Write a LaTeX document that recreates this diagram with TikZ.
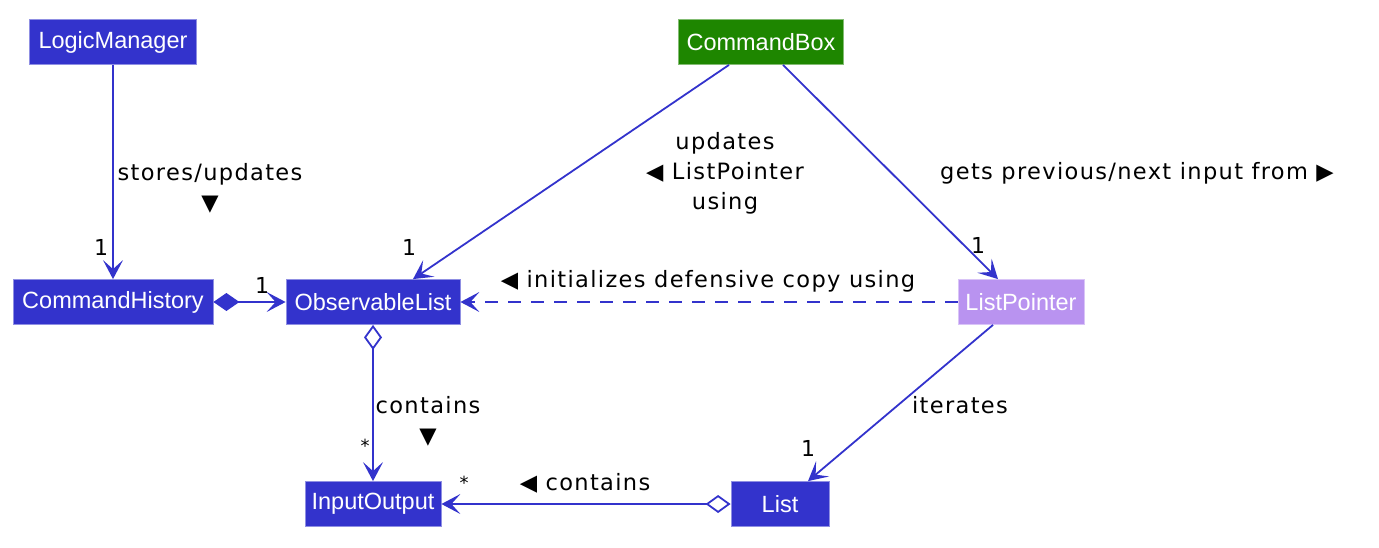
\documentclass[tikz,border=0pt]{standalone}
\usepackage{fontspec}
\setmainfont{Liberation Sans}
\newfontfamily\lblfont{DejaVu Sans}[LetterSpace=6]
\usetikzlibrary{arrows.meta}

\definecolor{umlblue}{RGB}{51,51,204}
\definecolor{umlgreen}{RGB}{30,134,0}
\definecolor{umllilac}{RGB}{185,147,240}

\begin{document}
\begin{tikzpicture}[
  x=1pt, y=-1pt,
  cls/.style={fill=#1, draw=white!45!#1, line width=0.8pt, text=white,
    minimum height=45pt, inner xsep=4pt,
    font=\fontsize{23.5}{26}\selectfont},
  cls/.default=umlblue,
  rel/.style={draw=umlblue, line width=1.8pt},
  tip/.style={-{Stealth[length=19pt, width=20pt, inset=9pt]}},
  lbl/.style={font=\lblfont\fontsize{22.5}{30}\selectfont, align=center},
  mult/.style={font=\lblfont\fontsize{22}{24}\selectfont},
  star/.style={font=\lblfont\fontsize{18}{20}\selectfont},
]
\useasboundingbox (0,0) rectangle (1379,547);

% === classes ===
\node[cls, minimum width=167pt] (lm) at (113, 42) {LogicManager};
\node[cls=umlgreen, minimum width=165pt] (cb) at (761, 42) {CommandBox};
\node[cls, minimum width=200pt] (ch) at (113, 302) {CommandHistory};
\node[cls, minimum width=174pt] (ol) at (373, 302) {ObservableList};
\node[cls=umllilac, minimum width=126pt] (lp) at (1021, 302) {ListPointer};
\node[cls, minimum width=136pt] (io) at (373, 504) {InputOutput};
\node[cls, minimum width=98pt] (lst) at (780, 504) {List};

% === relations ===
\draw[rel, {Diamond[length=26pt, width=18pt]}-{Stealth[length=19pt, width=20pt, inset=9pt]}]
  (ch) -- (ol);
\draw[rel, tip] (lm) -- (ch);
\draw[rel, tip] ([xshift=-32pt]cb.south) -- ([xshift=40pt]ol.north);
\draw[rel, tip] ([xshift=22pt]cb.south) -- ([xshift=-23pt]lp.north);
\draw[rel, tip, dash pattern=on 13pt off 10pt] (lp) -- (ol);
\draw[rel, {Diamond[length=25pt, width=18pt, fill=white]}-{Stealth[length=19pt, width=20pt, inset=9pt]}]
  (ol) -- (io);
\draw[rel, tip] ([xshift=-28pt]lp.south) -- ([xshift=28pt]lst.north);
\draw[rel, {Diamond[length=25pt, width=18pt, fill=white]}-{Stealth[length=19pt, width=20pt, inset=9pt]}]
  (lst) -- (io);

% === labels ===
\node[lbl] (l1) at (210, 188) {stores/updates\\▼};
\node[mult] (m1) at (101, 247) {1};
\node[mult] (m2) at (262, 285) {1};
\node[lbl] (l2) at (725, 173) {updates\\◀ ListPointer\\using};
\node[mult] (m3) at (409, 247) {1};
\node[lbl] (l3) at (1137, 173) {gets previous/next input from ▶};
\node[mult] (m4) at (978, 245) {1};
\node[lbl] (l4) at (708, 281) {◀ initializes defensive copy using};
\node[lbl] (l5) at (428, 421) {contains\\▼};
\node[star] (m5) at (365, 446) {*};
\node[lbl] (l6) at (960, 405) {iterates};
\node[mult] (m6) at (808, 448) {1};
\node[lbl] (l7) at (585, 483) {◀ contains};
\node[star] (m7) at (464, 483) {*};

\end{tikzpicture}
\end{document}
